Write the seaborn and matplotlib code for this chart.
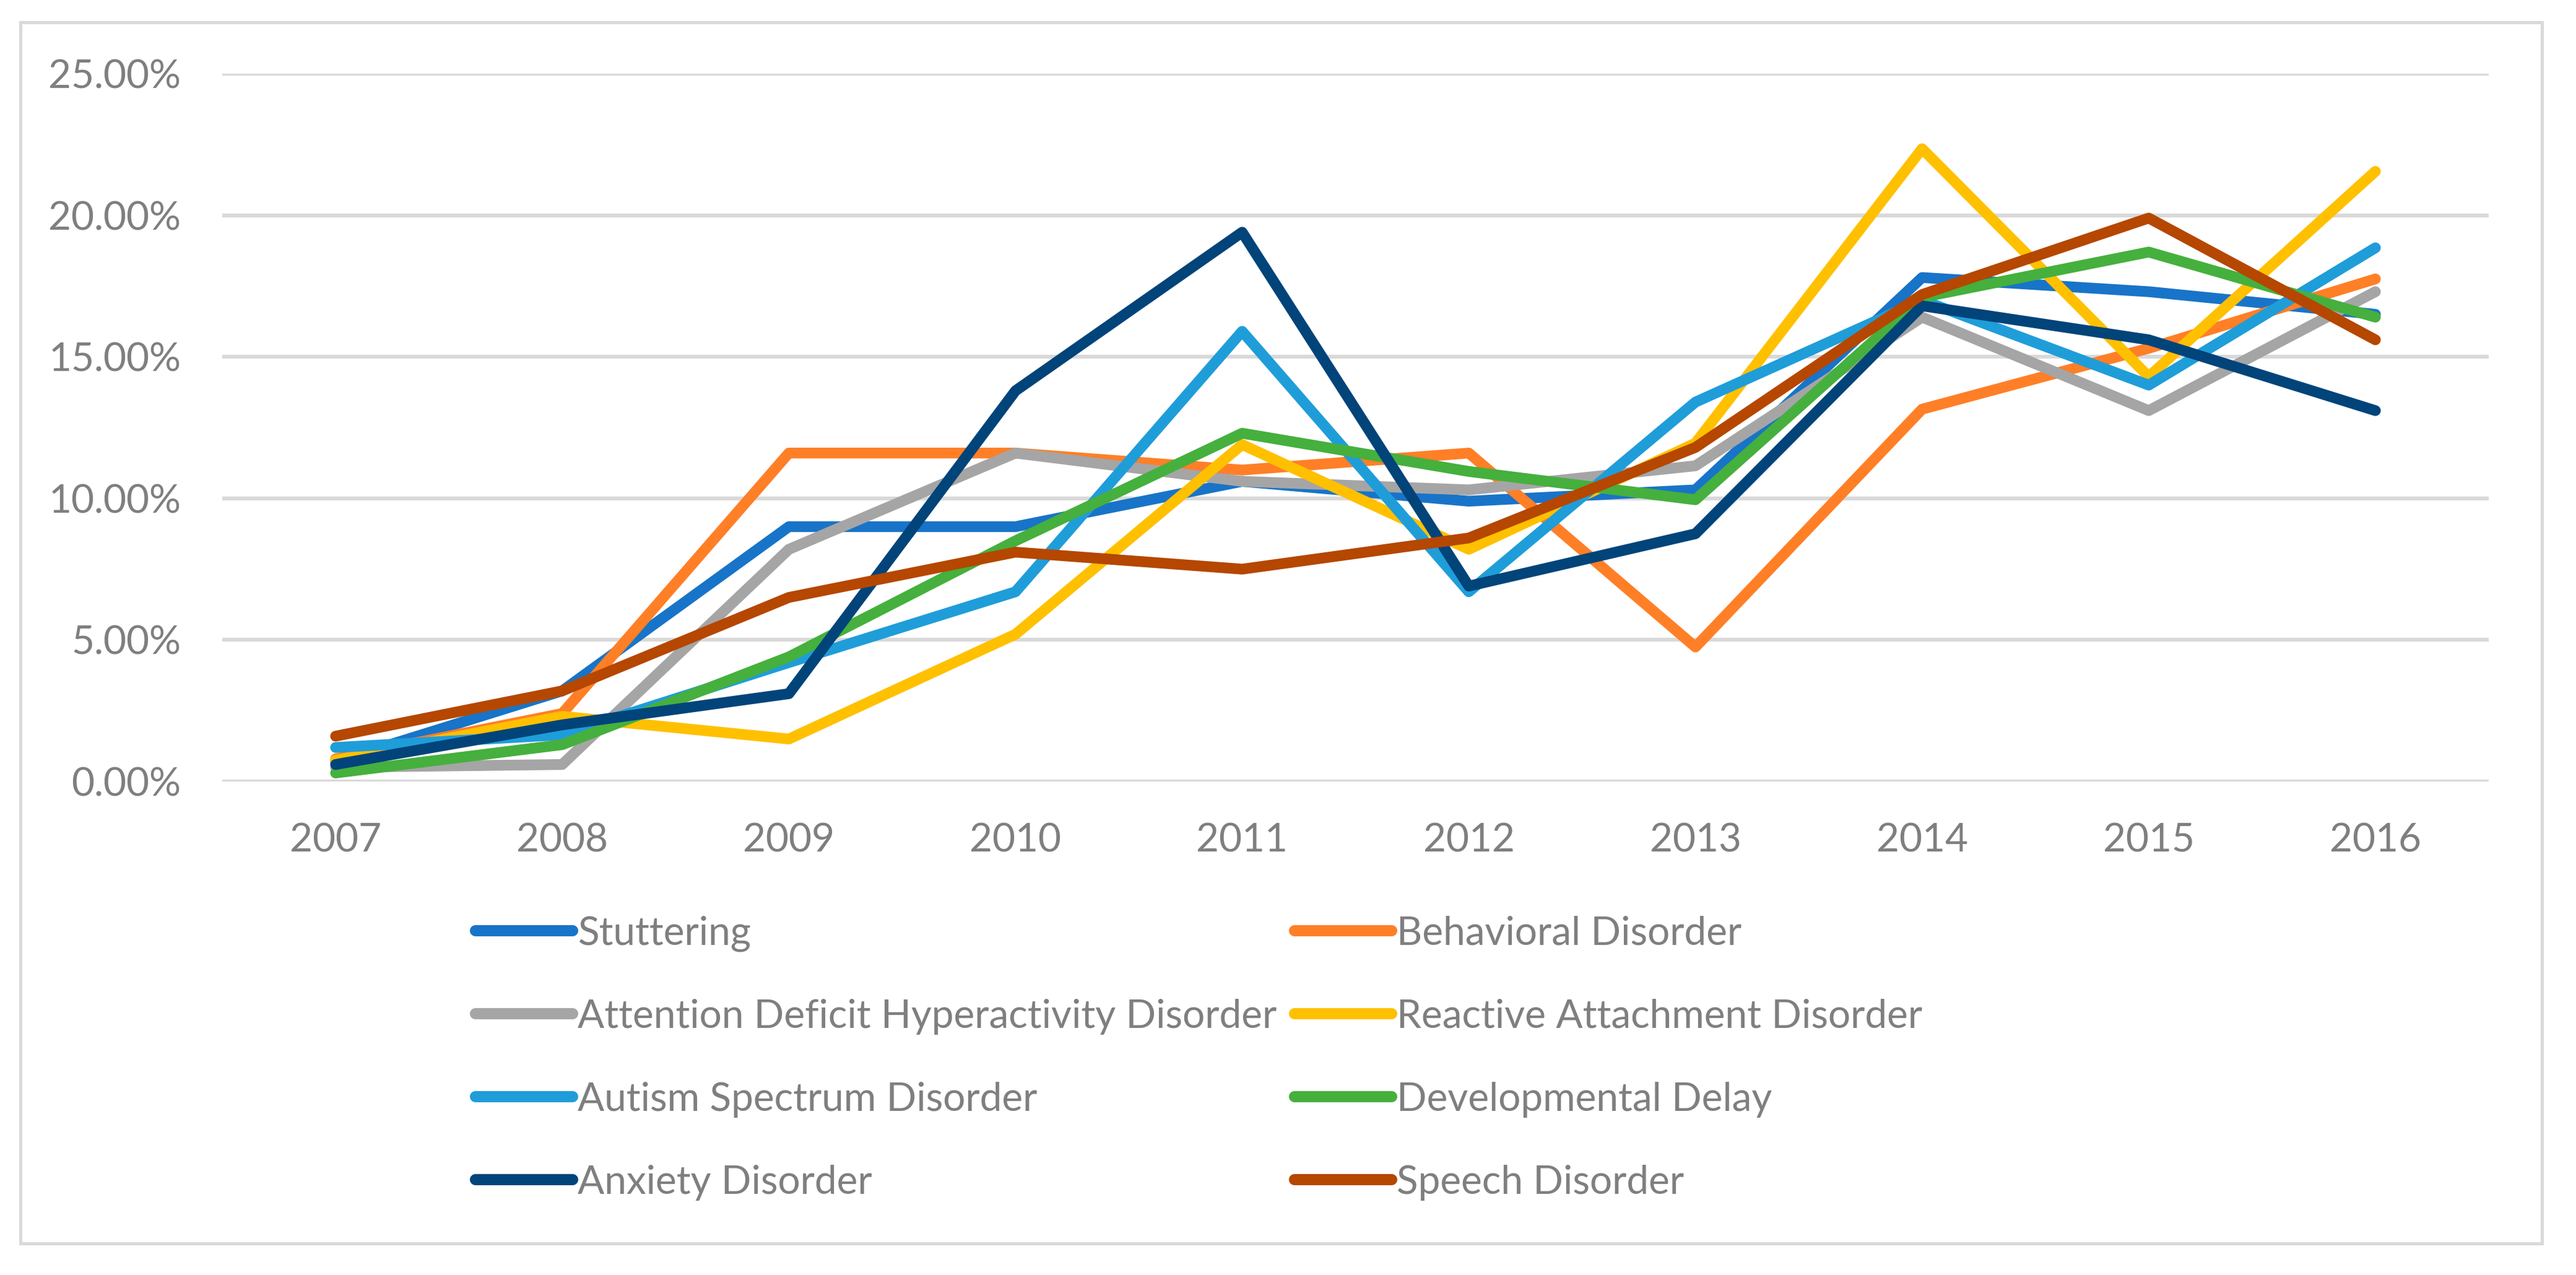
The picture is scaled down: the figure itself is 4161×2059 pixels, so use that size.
import matplotlib
matplotlib.use("Agg")
import matplotlib.pyplot as plt
import seaborn as sns
import pandas as pd
from matplotlib.ticker import PercentFormatter
from matplotlib.patches import Rectangle

years = [2007, 2008, 2009, 2010, 2011, 2012, 2013, 2014, 2015, 2016]
series_names = [
    "Stuttering",
    "Behavioral Disorder",
    "Attention Deficit Hyperactivity Disorder",
    "Reactive Attachment Disorder",
    "Autism Spectrum Disorder",
    "Developmental Delay",
    "Anxiety Disorder",
    "Speech Disorder",
]
stuttering = [0.7, 3.2, 9.0, 9.0, 10.6, 9.9, 10.3, 17.8, 17.3, 16.5]
behavioral = [0.8, 2.4, 11.6, 11.6, 11.0, 11.6, 4.75, 13.15, 15.3, 17.75]
adhd = [0.5, 0.6, 8.2, 11.6, 10.6, 10.3, 11.15, 16.4, 13.1, 17.3]
reactive = [0.75, 2.3, 1.5, 5.2, 11.9, 8.2, 11.95, 22.35, 14.3, 21.55]
autism = [1.2, 1.65, 4.2, 6.7, 15.9, 6.7, 13.4, 17.0, 14.0, 18.85]
developmental = [0.3, 1.3, 4.4, 8.5, 12.3, 10.95, 9.95, 17.1, 18.7, 16.4]
anxiety = [0.6, 2.0, 3.1, 13.8, 19.4, 6.9, 8.75, 16.8, 15.6, 13.1]
speech = [1.6, 3.2, 6.5, 8.1, 7.5, 8.6, 11.8, 17.2, 19.9, 15.6]
colors = ["#1874C8", "#FF7F27", "#A5A5A5", "#FFC000",
          "#1F9DD9", "#45B03D", "#00447A", "#B54700"]

all_values = [stuttering, behavioral, adhd, reactive, autism,
              developmental, anxiety, speech]
rows = []
for name, vals in zip(series_names, all_values):
    for i, (yr, v) in enumerate(zip(years, vals)):
        rows.append({"pos": i, "year": str(yr), "series": name, "value": v})
df = pd.DataFrame(rows)

sns.set_theme(style="white")
plt.rcParams["font.family"] = ["Lato", "DejaVu Sans"]

W, H = 4161, 2059
fig = plt.figure(figsize=(W / 100, H / 100), dpi=100)
fig.patch.set_facecolor("white")

left, right = 359, 4020
top, bottom = 119, 1262
ax = fig.add_axes([left / W, 1 - bottom / H, (right - left) / W, (bottom - top) / H])

sns.lineplot(data=df, x="pos", y="value", hue="series", hue_order=series_names,
             palette=colors, linewidth=12.5, ax=ax, legend=False,
             solid_joinstyle="round", solid_capstyle="round")

ax.set_xlim(-0.5, len(years) - 0.5)
ax.set_ylim(0, 25)
ax.set_xticks(range(len(years)))
ax.set_xticklabels([str(y) for y in years])
ax.set_yticks([0, 5, 10, 15, 20, 25])
ax.yaxis.set_major_formatter(PercentFormatter(xmax=100, decimals=2))
ax.set_xlabel("")
ax.set_ylabel("")
for s in ax.spines.values():
    s.set_visible(False)
ax.grid(axis="y", color="#D9D9D9", linewidth=4.5)
ax.set_axisbelow(True)
ax.tick_params(axis="both", length=0, labelsize=46, labelcolor="#7F7F7F")
ax.tick_params(axis="y", pad=48)
ax.tick_params(axis="x", pad=48)
ax.patch.set_alpha(0)

lines = ax.get_lines()[:len(series_names)]
handles = []
for ln in lines:
    h = matplotlib.lines.Line2D([], [], color=ln.get_color(), linewidth=13,
                                solid_capstyle="round")
    handles.append(h)

common = dict(frameon=False, fontsize=46, labelcolor="#7F7F7F",
              handlelength=2.45, handletextpad=0.14, labelspacing=1.19,
              borderpad=0, borderaxespad=0, loc="center left")
col1 = [0, 2, 4, 6]
col2 = [1, 3, 5, 7]
yc = 1 - 1708.5 / H
leg1 = fig.legend([handles[i] for i in col1], [series_names[i] for i in col1],
                  bbox_to_anchor=(768 / W, yc), **common)
leg2 = fig.legend([handles[i] for i in col2], [series_names[i] for i in col2],
                  bbox_to_anchor=(2091 / W, yc), **common)

fig.patches.append(Rectangle((33 / W, 1 - 2008 / H), (4106 - 33) / W, (2008 - 36) / H,
                             transform=fig.transFigure, fill=False,
                             edgecolor="#D9D9D9", linewidth=3.6))

fig.savefig("out.png", dpi=100, facecolor="white")
